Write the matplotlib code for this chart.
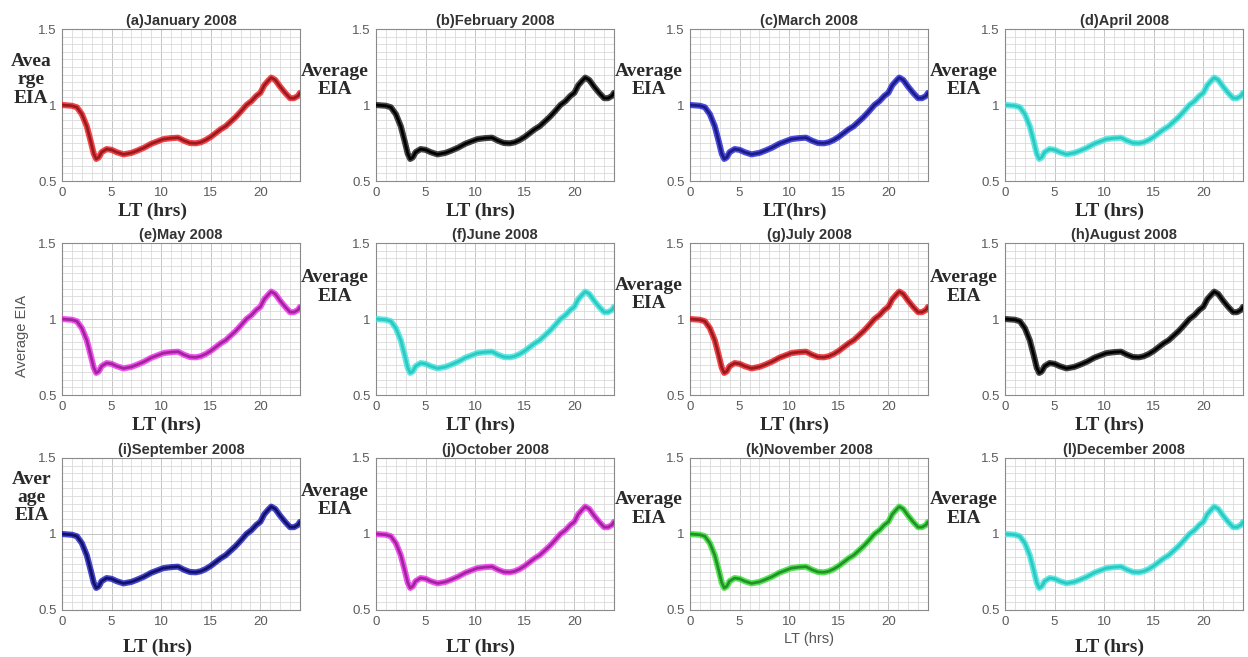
import matplotlib
matplotlib.use("Agg")
import matplotlib.pyplot as plt
from matplotlib.ticker import MultipleLocator

# Diurnal mean EIA strength versus local time (hours)
lt_hours = [0, 1.0, 1.5, 2.0, 2.5, 2.9, 3.2, 3.45, 3.7, 4.0, 4.5, 5.0, 5.5, 6.2,
            7.0, 7.6, 8.3, 9.0, 9.6, 10.2, 11.0, 11.7, 12.3, 12.9, 13.5, 14.0,
            14.5, 15.0, 15.5, 16.0, 16.5, 17.0, 17.5, 18.0, 18.6, 19.1, 19.6,
            20.0, 20.4, 20.8, 21.1, 21.5, 22.0, 22.5, 23.0, 23.4, 23.8, 24.0]
eia_values = [1.0, 0.995, 0.985, 0.94, 0.86, 0.76, 0.68, 0.645, 0.655, 0.69,
              0.71, 0.705, 0.69, 0.675, 0.685, 0.70, 0.72, 0.745, 0.76, 0.775,
              0.782, 0.785, 0.765, 0.75, 0.748, 0.755, 0.77, 0.79, 0.815, 0.84,
              0.86, 0.89, 0.92, 0.955, 1.0, 1.025, 1.06, 1.08, 1.13, 1.16, 1.18,
              1.165, 1.12, 1.08, 1.045, 1.045, 1.06, 1.08]

panel_titles = ["(a)January 2008", "(b)February 2008", "(c)March 2008",
                "(d)April 2008", "(e)May 2008", "(f)June 2008",
                "(g)July 2008", "(h)August 2008", "(i)September 2008",
                "(j)October 2008", "(k)November 2008", "(l)December 2008"]

ylabels = ["Avea\nrge\nEIA", "Average\nEIA", "Average\nEIA", "Average\nEIA",
           "Average EIA", "Average\nEIA", "Average\nEIA", "Average\nEIA",
           "Aver\nage\nEIA", "Average\nEIA", "Average\nEIA", "Average\nEIA"]

xlabels = ["LT (hrs)", "LT (hrs)", "LT(hrs)", "LT (hrs)",
           "LT (hrs)", "LT (hrs)", "LT (hrs)", "LT (hrs)",
           "LT (hrs)", "LT (hrs)", "LT (hrs)", "LT (hrs)"]

x_ticks = [0, 5, 10, 15, 20]
y_ticks = [0.5, 1.0, 1.5]
y_tick_labels = ["0.5", "1", "1.5"]

# (halo colour, core colour) for each month
line_colors = [("#f0242a", "#9a1a1e"), ("#262626", "#000000"),
               ("#2c2cdc", "#1c1c86"), ("#44e4de", "#2cc8c2"),
               ("#f034ee", "#a0249c"), ("#44e4de", "#2cc8c2"),
               ("#f0242a", "#9a1a1e"), ("#262626", "#000000"),
               ("#2626c4", "#12126a"), ("#f034ee", "#a0249c"),
               ("#36e036", "#23902a"), ("#44e4de", "#2cc8c2")]

SERIF = "Liberation Serif"
SANS = "Liberation Sans"

W, H = 1248, 657
fig = plt.figure(figsize=(W / 100, H / 100), dpi=100)
fig.patch.set_facecolor("white")

col_left = [62, 376, 690, 1005]
row_top = [29, 243, 458]
ax_w, ax_h = 238, 152

# vertical centre of the horizontal y-label blocks (axes fraction)
ylab_y = [0.665, 0.66, 0.66, 0.66,
          0.39, 0.71, 0.66, 0.71,
          0.74, 0.72, 0.665, 0.665]
xlab_x = [0.38, 0.44, 0.44, 0.44,
          0.44, 0.44, 0.44, 0.44,
          0.40, 0.44, 0.5, 0.44]
xlab_y = [-0.2, -0.2, -0.2, -0.2,
          -0.2, -0.2, -0.2, -0.2,
          -0.245, -0.245, -0.19, -0.245]

for i in range(12):
    r, c = divmod(i, 4)
    left = col_left[c] / W
    bottom = 1 - (row_top[r] + ax_h) / H
    ax = fig.add_axes([left, bottom, ax_w / W, ax_h / H])

    halo, core = line_colors[i]
    ax.plot(lt_hours, eia_values, color=halo, lw=4.4, alpha=0.85,
            solid_capstyle="round", solid_joinstyle="round", zorder=3)
    ax.plot(lt_hours, eia_values, color=core, lw=2.0,
            solid_capstyle="round", solid_joinstyle="round", zorder=4)

    ax.set_xlim(0, 24)
    ax.set_ylim(0.5, 1.5)
    ax.set_xticks(x_ticks)
    ax.set_yticks(y_ticks)
    ax.set_yticklabels(y_tick_labels)
    ax.xaxis.set_minor_locator(MultipleLocator(1))
    ax.yaxis.set_minor_locator(MultipleLocator(0.05))
    ax.grid(which="major", color="#c4c4c4", lw=0.7)
    ax.grid(which="minor", color="#dadada", lw=0.6)
    ax.set_axisbelow(True)
    ax.tick_params(which="both", direction="in", length=0, pad=4,
                   labelsize=9.5, labelcolor="#5a5a5a")
    for lab in ax.get_xticklabels() + ax.get_yticklabels():
        lab.set_fontfamily(SANS)
    for sp in ax.spines.values():
        sp.set_color("#8a8a8a")
        sp.set_linewidth(0.8)

    ax.set_title(panel_titles[i], fontsize=10.5, fontweight="bold",
                 family=SANS, color="#333333", pad=3)

    if i == 4:
        ax.set_ylabel(ylabels[i], family=SANS, fontsize=10.5, color="#555555",
                      rotation=90, ha="center", va="center")
        ax.yaxis.set_label_coords(-0.17, ylab_y[i])
    else:
        ax.set_ylabel(ylabels[i], family=SERIF, fontsize=14, fontweight="bold",
                      color="#2a2a2a", rotation=0, ha="right", va="center",
                      multialignment="center", linespacing=1.1)
        xoff = -0.045 if ylabels[i].count("\n") == 2 else -0.03
        ax.yaxis.set_label_coords(xoff, ylab_y[i])

    if i == 10:
        ax.set_xlabel(xlabels[i], family=SANS, fontsize=10.5, color="#555555",
                      va="center")
    else:
        ax.set_xlabel(xlabels[i], family=SERIF, fontsize=14, fontweight="bold",
                      color="#2a2a2a", va="center")
    ax.xaxis.set_label_coords(xlab_x[i], xlab_y[i])

fig.savefig("out.png", dpi=100, facecolor="white")
